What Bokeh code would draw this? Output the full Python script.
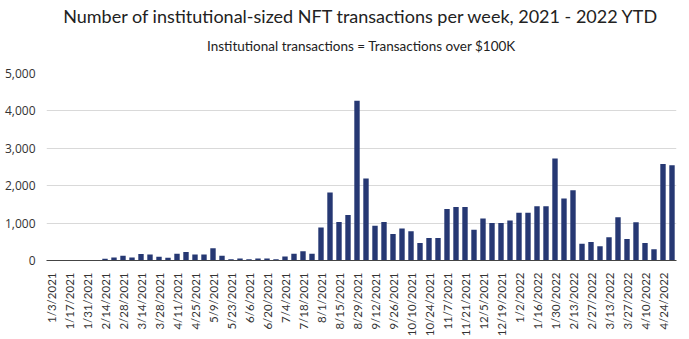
import math
from bokeh.plotting import figure
from bokeh.models import ColumnDataSource, FixedTicker, NumeralTickFormatter, Title, Range1d
from bokeh.embed import file_html
from bokeh.resources import INLINE

weeks = [
    "1/3/2021", "1/10/2021", "1/17/2021", "1/24/2021", "1/31/2021", "2/7/2021",
    "2/14/2021", "2/21/2021", "2/28/2021", "3/7/2021", "3/14/2021", "3/21/2021",
    "3/28/2021", "4/4/2021", "4/11/2021", "4/18/2021", "4/25/2021", "5/2/2021",
    "5/9/2021", "5/16/2021", "5/23/2021", "5/30/2021", "6/6/2021", "6/13/2021",
    "6/20/2021", "6/27/2021", "7/4/2021", "7/11/2021", "7/18/2021", "7/25/2021",
    "8/1/2021", "8/8/2021", "8/15/2021", "8/22/2021", "8/29/2021", "9/5/2021",
    "9/12/2021", "9/19/2021", "9/26/2021", "10/3/2021", "10/10/2021", "10/17/2021",
    "10/24/2021", "10/31/2021", "11/7/2021", "11/14/2021", "11/21/2021", "11/28/2021",
    "12/5/2021", "12/12/2021", "12/19/2021", "12/26/2021", "1/2/2022", "1/9/2022",
    "1/16/2022", "1/23/2022", "1/30/2022", "2/6/2022", "2/13/2022", "2/20/2022",
    "2/27/2022", "3/6/2022", "3/13/2022", "3/20/2022", "3/27/2022", "4/3/2022",
    "4/10/2022", "4/17/2022", "4/24/2022", "5/1/2022",
]

transactions = [
    0, 0, 0, 0, 0, 0,
    50, 80, 130, 80, 175, 160,
    100, 75, 180, 225, 160, 160,
    330, 130, 35, 55, 35, 55,
    55, 35, 105, 180, 250, 180,
    885, 1815, 1030, 1215, 4270, 2190,
    930, 1030, 710, 855, 780, 470,
    600, 600, 1380, 1430, 1430, 820,
    1125, 1000, 1000, 1070, 1275, 1275,
    1450, 1450, 2730, 1660, 1880, 450,
    495, 380, 620, 1155, 572, 1025,
    470, 300, 2578, 2550,
]

y_ticks = [0, 1000, 2000, 3000, 4000, 5000]

title_text = "Number of institutional-sized NFT transactions per week, 2021 - 2022 YTD"
subtitle_text = "Institutional transactions = Transactions over $100K"

idx = list(range(len(weeks)))
source = ColumnDataSource(data=dict(x=idx, week=weeks, count=transactions))

p = figure(width=689, height=339, output_backend="svg", toolbar_location=None,
           x_range=Range1d(-0.5, len(weeks) - 0.5), y_range=Range1d(0, 5000),
           min_border_left=46, min_border_right=13, min_border_bottom=10,
           min_border_top=0, title=None)

p.vbar(x="x", top="count", width=0.6, source=source,
       fill_color="#263873", line_color=None)

spacer = Title(text=" ", text_font_size="10px", standoff=0)
p.add_layout(spacer, "above")
sub = Title(text=subtitle_text, align="center", text_font="Lato",
            text_font_size="13.5px", text_font_style="normal", text_color="#222222",
            standoff=14, offset=0)
p.add_layout(sub, "above")
main = Title(text=title_text, align="center", text_font="Lato",
             text_font_size="18px", text_font_style="normal", text_color="#222222",
             standoff=4)
p.add_layout(main, "above")

p.xaxis.ticker = FixedTicker(ticks=idx[::2])
p.xaxis.major_label_overrides = {i: weeks[i] for i in idx[::2]}
p.xaxis.major_label_orientation = math.pi / 2
p.xaxis.major_label_text_font = "Lato"
p.xaxis.major_label_text_font_size = "11.5px"
p.xaxis.major_label_text_color = "#333333"
p.xaxis.major_label_standoff = 6
p.xaxis.major_tick_line_color = None
p.xaxis.minor_tick_line_color = None
p.xaxis.axis_line_color = "#444444"
p.xaxis.axis_line_width = 1.2

p.yaxis.ticker = FixedTicker(ticks=y_ticks)
p.yaxis.formatter = NumeralTickFormatter(format="0,0")
p.yaxis.major_label_text_font = "Open Sans"
p.yaxis.major_label_text_font_size = "12px"
p.yaxis.major_label_text_color = "#333333"
p.yaxis.major_label_standoff = 5
p.yaxis.axis_line_color = None
p.yaxis.major_tick_line_color = None
p.yaxis.minor_tick_line_color = None

p.xgrid.grid_line_color = None
p.ygrid.grid_line_color = "#d9d9d9"
p.ygrid.grid_line_width = 1.2
p.outline_line_color = None
p.background_fill_color = "white"
p.border_fill_color = "white"

open("out.html", "w").write(file_html(p, INLINE))
